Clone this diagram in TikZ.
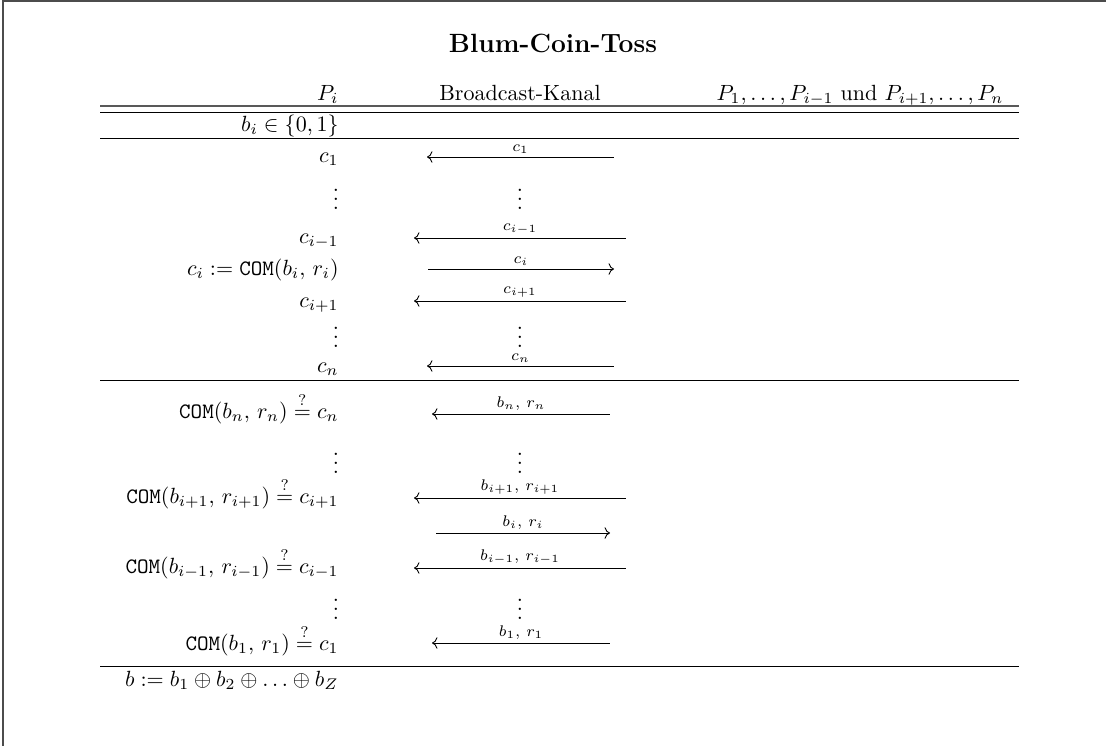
\documentclass[tikz,border=0pt]{standalone}
\usepackage{amsmath,amssymb}
\usetikzlibrary{arrows.meta}

% one unit = one pixel of the final image, y grows downwards
\tikzset{
  rule/.style={line width=0.45pt},
  toprule/.style={line width=0.6pt, black!65},
  frameline/.style={line width=0.6pt, black!70},
  lefttext/.style={anchor=base east, inner sep=0pt},
  head/.style={anchor=base, inner sep=0pt},
  dots/.style={inner sep=0pt},
  msg/.style={line width=0.4pt},
  msglabel/.style={above=1.5pt, inner sep=0pt, font=\scriptsize},
}

% \msgline{name}{y}{x-left}{x-right}{arrow}{label}
\newcommand\msgline[6]{%
  \coordinate (#1-l) at (#3,#2);
  \coordinate (#1-r) at (#4,#2);
  \draw[msg,#5] (#1-l) -- (#1-r) node[msglabel, midway] {$#6$};
}

\begin{document}
\begin{tikzpicture}[x=0.4545pt, y=-0.4545pt]
  \useasboundingbox (0,0) rectangle (1106,746);

  % surrounding frame (only its left and top edges lie inside the page)
  \coordinate (fbl) at (3,746);
  \coordinate (ftl) at (3,1);
  \coordinate (ftr) at (1106,1);
  \draw[frameline] (fbl) -- (ftl) -- (ftr);

  % title
  \node[font=\large\bfseries] (title) at (553,43) {Blum-Coin-Toss};

  % column heads
  \node[lefttext] (hPi) at (339,100) {$P_i$};
  \node[head] (hBC) at (520,100) {Broadcast-Kanal};
  \node[head] (hPo) at (860,100) {$P_1, \ldots, P_{i-1}$ und $P_{i+1}, \ldots, P_n$};

  % table rules
  \coordinate (r1l) at (100,106);  \coordinate (r1r) at (1019,106);
  \coordinate (r2l) at (100,112);  \coordinate (r2r) at (1019,112);
  \coordinate (r3l) at (100,138);  \coordinate (r3r) at (1019,138);
  \coordinate (r4l) at (100,380);  \coordinate (r4r) at (1019,380);
  \coordinate (r5l) at (100,666);  \coordinate (r5r) at (1019,666);
  \draw[toprule] (r1l) -- (r1r);
  \draw[rule] (r2l) -- (r2r);
  \draw[rule] (r3l) -- (r3r);
  \draw[rule] (r4l) -- (r4r);
  \draw[rule] (r5l) -- (r5r);

  % choice of the own bit
  \node[lefttext] (bi) at (339,131) {$b_i \in \{0,1\}$};

  % commitment phase
  \node[lefttext] (c1) at (339,162) {$c_1$};
  \msgline{m1}{157}{427}{614}{<-}{c_1}
  \node[dots] (d1) at (336,193) {$\vdots$};
  \node[dots] (d1m) at (520,193) {$\vdots$};
  \node[lefttext] (cim) at (339,243) {$c_{i-1}$};
  \msgline{m2}{238}{414}{626}{<-}{c_{i-1}}
  \node[lefttext] (ci) at (339,275) {$c_i := \mathtt{COM}(b_i,\, r_i)$};
  \msgline{m3}{269}{428}{614}{->}{c_i}
  \node[lefttext] (cip) at (339,307) {$c_{i+1}$};
  \msgline{m4}{301}{414}{626}{<-}{c_{i+1}}
  \node[dots] (d2) at (336,331) {$\vdots$};
  \node[dots] (d2m) at (520,331) {$\vdots$};
  \node[lefttext] (cn) at (339,372) {$c_n$};
  \msgline{m5}{366}{427}{614}{<-}{c_n}

  % opening phase
  \node[lefttext] (on) at (339,418) {$\mathtt{COM}(b_n,\, r_n) \stackrel{?}{=} c_n$};
  \msgline{m6}{414}{432}{610}{<-}{b_n,\, r_n}
  \node[dots] (d3) at (336,457) {$\vdots$};
  \node[dots] (d3m) at (520,457) {$\vdots$};
  \node[lefttext] (oip) at (339,503) {$\mathtt{COM}(b_{i+1},\, r_{i+1}) \stackrel{?}{=} c_{i+1}$};
  \msgline{m7}{498}{414}{626}{<-}{b_{i+1},\, r_{i+1}}
  \msgline{m8}{533}{436}{610}{->}{b_i,\, r_i}
  \node[lefttext] (oim) at (339,573) {$\mathtt{COM}(b_{i-1},\, r_{i-1}) \stackrel{?}{=} c_{i-1}$};
  \msgline{m9}{568}{414}{626}{<-}{b_{i-1},\, r_{i-1}}
  \node[dots] (d4) at (336,603) {$\vdots$};
  \node[dots] (d4m) at (520,603) {$\vdots$};
  \node[lefttext] (o1) at (339,650) {$\mathtt{COM}(b_1,\, r_1) \stackrel{?}{=} c_1$};
  \msgline{m10}{643}{432}{610}{<-}{b_1,\, r_1}

  % resulting coin
  \node[lefttext] (res) at (339,686) {$b := b_1 \oplus b_2 \oplus \ldots \oplus b_Z$};
\end{tikzpicture}
\end{document}
